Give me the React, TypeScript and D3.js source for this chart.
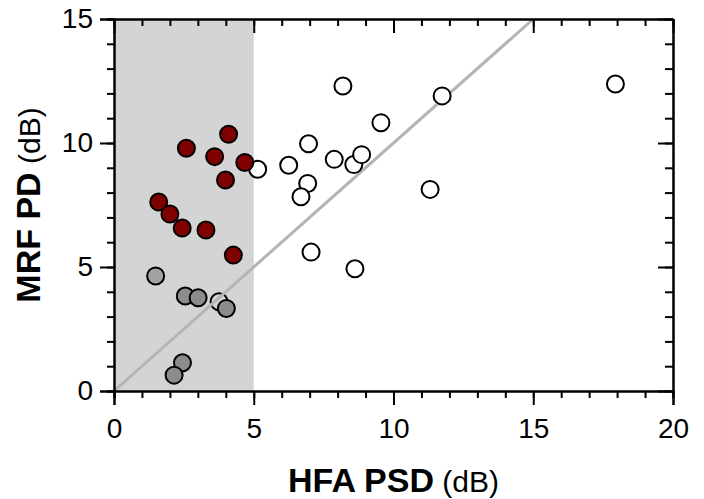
import React, { useEffect, useRef } from 'react'
import * as d3 from 'd3'

// HFA PSD (x) vs MRF PD (y), dB
const redX = [2.59, 4.10, 3.60, 4.68, 3.99, 1.60, 2.00, 2.44, 3.29, 4.27]
const redY = [9.79, 10.35, 9.45, 9.21, 8.51, 7.62, 7.14, 6.57, 6.49, 5.48]

const grayX = [1.49, 2.55, 3.01, 4.02, 2.45, 2.15]
const grayY = [4.64, 3.83, 3.76, 3.33, 1.14, 0.64]

// point sitting under the identity line
const hiddenX = [3.76]
const hiddenY = [3.60]

const whiteX = [5.14, 6.25, 6.96, 7.88, 8.58, 8.86, 6.93, 6.69, 8.19, 9.55, 11.74, 17.94, 11.31, 7.05, 8.62]
const whiteY = [8.94, 9.10, 9.97, 9.34, 9.13, 9.53, 8.37, 7.83, 12.30, 10.82, 11.90, 12.38, 8.13, 5.60, 4.93]

const majorX = [0, 5, 10, 15, 20]
const majorY = [0, 5, 10, 15]
const shadeMax = 5
const identityMax = 15

export default function App() {
  const svgRef = useRef<SVGSVGElement>(null)

  useEffect(() => {
    const width = 704, height = 499
    const m = { top: 19, right: 31, bottom: 108, left: 114 }
    const svg = d3.select(svgRef.current).attr('width', width).attr('height', height)
    svg.selectAll('*').remove()
    const font = "'Liberation Sans', Arial, sans-serif"

    const x = d3.scaleLinear().domain([0, 20]).range([m.left, width - m.right])
    const y = d3.scaleLinear().domain([0, 15]).range([height - m.bottom, m.top])

    svg.append('rect').attr('x', x(0)).attr('y', y(15)).attr('width', x(shadeMax) - x(0))
      .attr('height', y(0) - y(15)).attr('fill', '#d4d4d4')

    const dot = (xs: number[], ys: number[], fill: string) => {
      svg.append('g').selectAll('circle').data(xs).join('circle')
        .attr('cx', d => x(d)).attr('cy', (d, i) => y(ys[i])).attr('r', 8.5)
        .attr('fill', fill).attr('stroke', '#000').attr('stroke-width', 2)
    }

    dot(hiddenX, hiddenY, '#d4d4d4')

    svg.append('line').attr('x1', x(0)).attr('y1', y(0)).attr('x2', x(identityMax)).attr('y2', y(identityMax))
      .attr('stroke', '#b4b4b4').attr('stroke-width', 3)

    dot(whiteX, whiteY, '#fff')
    dot(grayX.slice(0, 1), grayY.slice(0, 1), '#a2a2a2')
    dot(grayX.slice(1), grayY.slice(1), '#8c8c8c')
    dot(redX, redY, '#800000')

    const minorX = d3.range(0, 21)
    const minorY = d3.range(0, 16)
    const style = (g: any) => {
      g.select('.domain').attr('stroke', '#000').attr('stroke-width', 2)
      g.selectAll('.tick line').attr('stroke', '#000').attr('stroke-width', 2)
      g.selectAll('text').attr('fill', '#000').style('font-family', font).style('font-size', '28px')
    }

    // bottom
    svg.append('g').attr('transform', `translate(0,${y(0)})`)
      .call(d3.axisBottom(x).tickValues(minorX).tickSize(7).tickFormat(() => '')).call(style)
    svg.append('g').attr('transform', `translate(0,${y(0)})`)
      .call(d3.axisBottom(x).tickValues(majorX).tickSize(14).tickPadding(13).tickFormat(d3.format('d'))).call(style)
    // left
    svg.append('g').attr('transform', `translate(${x(0)},0)`)
      .call(d3.axisLeft(y).tickValues(minorY).tickSize(7).tickFormat(() => '')).call(style)
    svg.append('g').attr('transform', `translate(${x(0)},0)`)
      .call(d3.axisLeft(y).tickValues(majorY).tickSize(14).tickPadding(7).tickFormat(d3.format('d'))).call(style)
    // top, ticks inward
    svg.append('g').attr('transform', `translate(0,${y(15)})`)
      .call(d3.axisBottom(x).tickValues(minorX).tickSize(7).tickSizeOuter(0).tickFormat(() => '')).call(style)
    svg.append('g').attr('transform', `translate(0,${y(15)})`)
      .call(d3.axisBottom(x).tickValues(majorX).tickSize(14).tickSizeOuter(0).tickFormat(() => '')).call(style)
    // right, ticks inward
    svg.append('g').attr('transform', `translate(${x(20)},0)`)
      .call(d3.axisLeft(y).tickValues(minorY).tickSize(8).tickSizeOuter(0).tickFormat(() => '')).call(style)
    svg.append('g').attr('transform', `translate(${x(20)},0)`)
      .call(d3.axisLeft(y).tickValues(majorY).tickSize(15).tickSizeOuter(0).tickFormat(() => '')).call(style)

    // axis titles
    const xt = svg.append('text').attr('x', (x(0) + x(20)) / 2).attr('y', 492)
      .attr('text-anchor', 'middle').style('font-family', font).attr('fill', '#000')
    xt.append('tspan').attr('font-weight', 'bold').attr('font-size', 34).text('HFA PSD')
    xt.append('tspan').attr('font-size', 30).text(' (dB)')

    const yt = svg.append('text').attr('transform', `translate(40,${(y(0) + y(15)) / 2}) rotate(-90)`)
      .attr('text-anchor', 'middle').style('font-family', font).attr('fill', '#000')
    yt.append('tspan').attr('font-weight', 'bold').attr('font-size', 34).text('MRF PD')
    yt.append('tspan').attr('font-size', 30).text(' (dB)')
  }, [])

  return (<div><svg ref={svgRef} style={{ position: 'absolute', left: 0, top: 0, background: '#fff' }}></svg></div>)
}
